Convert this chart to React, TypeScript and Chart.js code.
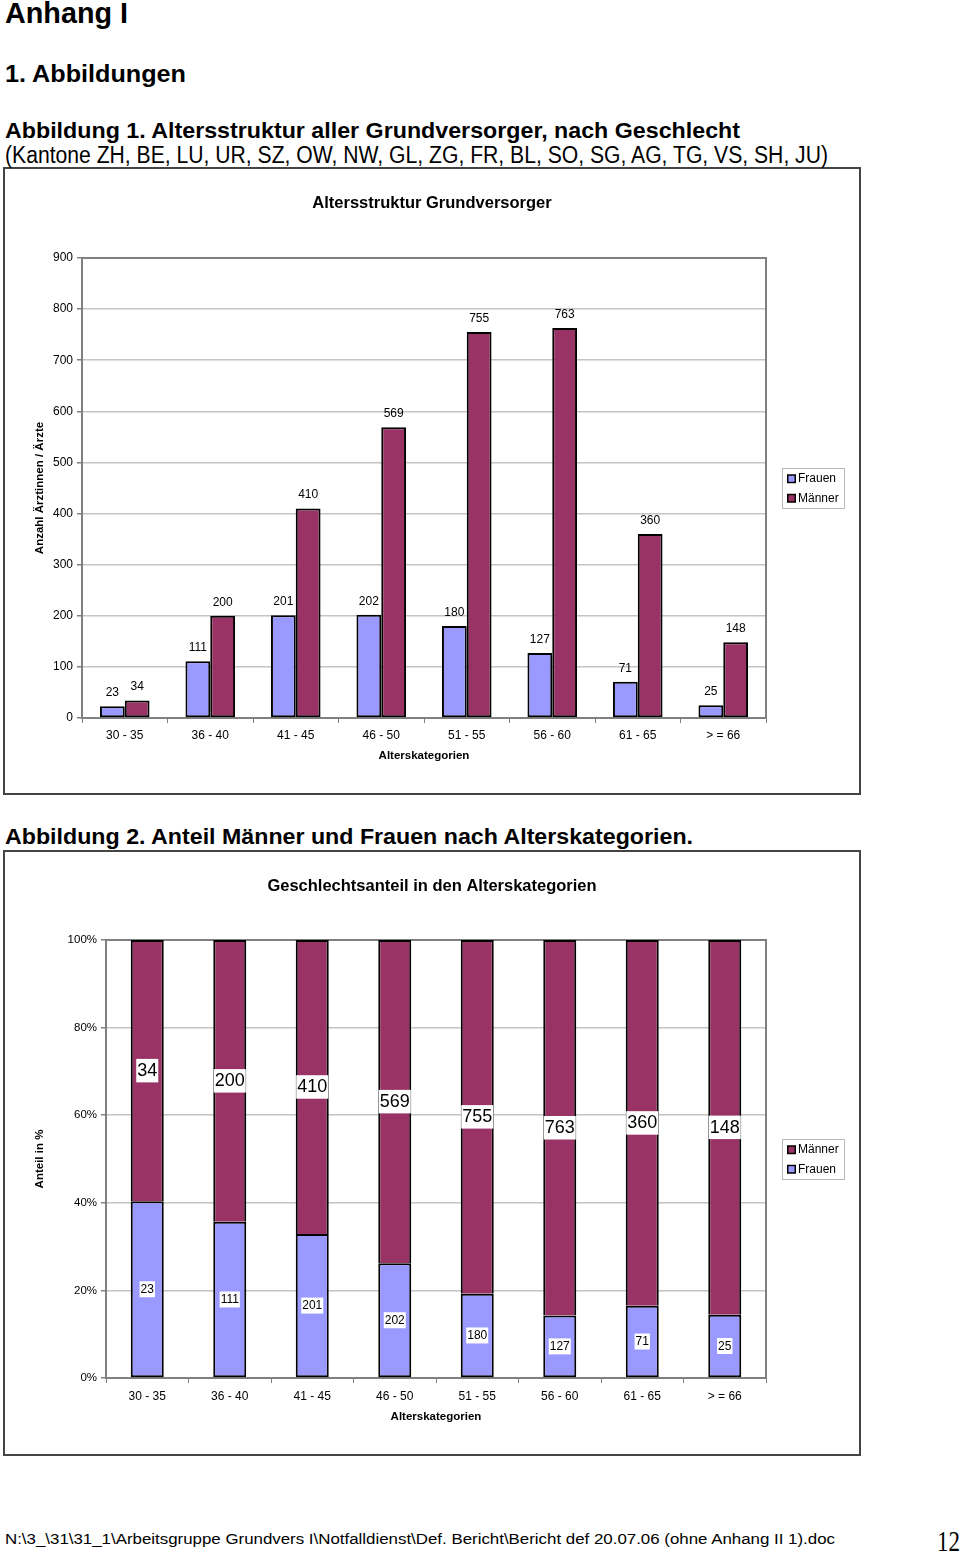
import React, { useEffect, useRef } from 'react';
import { Chart, registerables } from 'chart.js';

Chart.register(...registerables);

// ---------- data ----------
const categories = ['30 - 35', '36 - 40', '41 - 45', '46 - 50', '51 - 55', '56 - 60', '61 - 65', '> = 66'];
const frauen = [23, 111, 201, 202, 180, 127, 71, 25];
const maenner = [34, 200, 410, 569, 755, 763, 360, 148];
const countMax = 900;
const countStep = 100;
const shareMax = 100;
const shareStep = 20;

const frauenShare = frauen.map((f, i) => (f / (f + maenner[i])) * 100);
const maennerShare = maenner.map((m, i) => (m / (frauen[i] + m)) * 100);

// ---------- styles ----------
const FONT = "'Liberation Sans', Arial, Helvetica, sans-serif";
const COLOR_F = '#9999FF';
const COLOR_M = '#993366';
const AXIS = '#808080';
const GRID = '#c4c4c4';

type LegendItem = { label: string; color: string };

function drawLegend(ctx: CanvasRenderingContext2D, x: number, y: number, w: number, h: number, items: LegendItem[]) {
  ctx.save();
  ctx.fillStyle = '#fff';
  ctx.fillRect(x, y, w, h);
  ctx.strokeStyle = '#b8b8b8';
  ctx.lineWidth = 1;
  ctx.strokeRect(x + 0.5, y + 0.5, w - 1, h - 1);
  const rowH = h / items.length;
  ctx.font = `12px ${FONT}`;
  ctx.textAlign = 'left';
  ctx.textBaseline = 'middle';
  items.forEach((it, i) => {
    const cy = y + rowH * (i + 0.5) + (i === 0 ? 0.5 : -0.5);
    ctx.fillStyle = '#000';
    ctx.fillRect(x + 5, cy - 4.5, 9, 9);
    ctx.fillStyle = it.color;
    ctx.fillRect(x + 6.5, cy - 3, 6, 6);
    ctx.fillStyle = '#000';
    ctx.fillText(it.label, x + 16, cy);
  });
  ctx.restore();
}

function drawFrame(chart: any) {
  const { ctx, chartArea: a } = chart;
  ctx.save();
  ctx.strokeStyle = AXIS;
  ctx.lineWidth = 2;
  ctx.strokeRect(a.left, a.top, a.right - a.left, a.bottom - a.top);
  ctx.restore();
}

function drawTitles(chart: any, title: string, xTitle: string, xTitleY: number, yTitle: string, yTitleX: number) {
  const { ctx, chartArea: a } = chart;
  ctx.save();
  ctx.fillStyle = '#000';
  ctx.textAlign = 'center';
  ctx.textBaseline = 'middle';
  ctx.font = `bold 16.5px ${FONT}`;
  ctx.fillText(title, 428, 35);
  ctx.font = `bold 11.5px ${FONT}`;
  ctx.fillText(xTitle, (a.left + a.right) / 2, xTitleY);
  ctx.translate(yTitleX, (a.top + a.bottom) / 2);
  ctx.rotate(-Math.PI / 2);
  ctx.fillText(yTitle, 0, 0);
  ctx.restore();
}

const decorCounts = {
  id: 'decorCounts',
  beforeDatasetsDraw(chart: any) {
    drawFrame(chart);
  },
  afterDatasetsDraw(chart: any) {
    const { ctx } = chart;
    ctx.save();
    ctx.font = `12px ${FONT}`;
    ctx.fillStyle = '#000';
    ctx.textAlign = 'center';
    ctx.textBaseline = 'middle';
    chart.data.datasets.forEach((ds: any, i: number) => {
      const meta = chart.getDatasetMeta(i);
      meta.data.forEach((bar: any, j: number) => {
        ctx.fillText(String(ds.data[j]), bar.x, bar.y - 13.5);
      });
    });
    ctx.restore();
  },
  afterDraw(chart: any) {
    drawTitles(chart, 'Altersstruktur Grundversorger', 'Alterskategorien', 588, 'Anzahl Ärztinnen / Ärzte', 36);
    drawLegend(chart.ctx, 778, 300, 63, 41, [
      { label: 'Frauen', color: COLOR_F },
      { label: 'Männer', color: COLOR_M },
    ]);
  },
};

const decorShares = {
  id: 'decorShares',
  beforeDatasetsDraw(chart: any) {
    drawFrame(chart);
  },
  afterDatasetsDraw(chart: any) {
    const { ctx } = chart;
    const counts = [frauen, maenner];
    const sizes = [12, 18];
    ctx.save();
    ctx.textAlign = 'center';
    ctx.textBaseline = 'middle';
    chart.data.datasets.forEach((_ds: any, i: number) => {
      const meta = chart.getDatasetMeta(i);
      const size = sizes[i];
      ctx.font = `${size}px ${FONT}`;
      meta.data.forEach((bar: any, j: number) => {
        const txt = String(counts[i][j]);
        const cy = (bar.y + bar.base) / 2;
        const w = ctx.measureText(txt).width + 2;
        const h = size * 1.25 + 1;
        ctx.fillStyle = '#fff';
        ctx.fillRect(bar.x - w / 2, cy - h / 2, w, h);
        ctx.fillStyle = '#000';
        ctx.fillText(txt, bar.x, cy + 0.5);
      });
    });
    ctx.restore();
  },
  afterDraw(chart: any) {
    drawTitles(chart, 'Geschlechtsanteil in den Alterskategorien', 'Alterskategorien', 566, 'Anteil in %', 36);
    drawLegend(chart.ctx, 778, 288, 63, 41, [
      { label: 'Männer', color: COLOR_M },
      { label: 'Frauen', color: COLOR_F },
    ]);
  },
};

function xAxis(height: number, padding: number, stacked: boolean) {
  return {
    stacked,
    grid: { display: true, drawOnChartArea: false, drawTicks: true, tickLength: 5, tickColor: AXIS, offset: true },
    border: { display: true, color: AXIS, width: 2 },
    ticks: { font: { family: FONT, size: 12 }, color: '#000', padding, maxRotation: 0, autoSkip: false },
    afterFit: (s: any) => {
      s.height = height;
    },
  };
}

function countsConfig(): any {
  return {
    type: 'bar',
    data: {
      labels: categories,
      datasets: [
        { label: 'Frauen', data: frauen, backgroundColor: COLOR_F },
        { label: 'Männer', data: maenner, backgroundColor: COLOR_M },
      ],
    },
    options: {
      animation: false,
      responsive: false,
      layout: { padding: { left: 0, top: 90, right: 94, bottom: 0 } },
      datasets: {
        bar: { categoryPercentage: 0.58, barPercentage: 1, borderColor: '#000', borderWidth: 2, borderSkipped: false },
      },
      plugins: { legend: { display: false }, title: { display: false }, tooltip: { enabled: false } },
      scales: {
        x: xAxis(76, 5, false),
        y: {
          min: 0,
          max: countMax,
          ticks: { stepSize: countStep, font: { family: FONT, size: 12 }, color: '#000', padding: 4 },
          grid: { color: GRID, lineWidth: 1.5, tickLength: 5, tickColor: AXIS },
          border: { display: true, color: AXIS, width: 2 },
          afterFit: (s: any) => {
            s.width = 78;
          },
        },
      },
    },
    plugins: [decorCounts],
  };
}

function sharesConfig(): any {
  return {
    type: 'bar',
    data: {
      labels: categories,
      datasets: [
        { label: 'Frauen', data: frauenShare, backgroundColor: COLOR_F, borderSkipped: false },
        { label: 'Männer', data: maennerShare, backgroundColor: COLOR_M, borderSkipped: 'start' },
      ],
    },
    options: {
      animation: false,
      responsive: false,
      layout: { padding: { left: 0, top: 89, right: 94, bottom: 0 } },
      datasets: {
        bar: { categoryPercentage: 0.4, barPercentage: 1, borderColor: '#000', borderWidth: 2 },
      },
      plugins: { legend: { display: false }, title: { display: false }, tooltip: { enabled: false } },
      scales: {
        x: xAxis(77, 6, true),
        y: {
          stacked: true,
          min: 0,
          max: shareMax,
          ticks: {
            stepSize: shareStep,
            font: { family: FONT, size: 11.5 },
            color: '#000',
            padding: 4,
            callback: (v: any) => `${v}%`,
          },
          grid: { color: GRID, lineWidth: 1.5, tickLength: 5, tickColor: AXIS },
          border: { display: true, color: AXIS, width: 2 },
          afterFit: (s: any) => {
            s.width = 102;
          },
        },
      },
    },
    plugins: [decorShares],
  };
}

function ChartCanvas({ left, top, width, height, make }: { left: number; top: number; width: number; height: number; make: () => any }) {
  const ref = useRef<HTMLCanvasElement | null>(null);
  useEffect(() => {
    if (!ref.current) return;
    const chart = new Chart(ref.current, make());
    return () => chart.destroy();
  }, []);
  return (
    <canvas
      ref={ref}
      width={width}
      height={height}
      style={{ position: 'absolute', left, top, width, height }}
    />
  );
}

function Box({ left, top, width, height }: { left: number; top: number; width: number; height: number }) {
  return (
    <div
      style={{
        position: 'absolute',
        left,
        top,
        width,
        height,
        boxSizing: 'border-box',
        border: '2px solid #444',
        background: '#fff',
      }}
    />
  );
}

export default function App() {
  const T = (props: any) => (
    <text fontFamily={FONT} fill="#000" lengthAdjust="spacingAndGlyphs" {...props} />
  );
  return (
    <div
      style={{
        position: 'absolute',
        left: 0,
        top: 0,
        width: 960,
        height: 1551,
        overflow: 'hidden',
        background: '#fff',
      }}
    >
      <Box left={3} top={167} width={858} height={628} />
      <Box left={3} top={850} width={858} height={606} />
      <svg width={960} height={1551} style={{ position: 'absolute', left: 0, top: 0 }}>
        <T x={5} y={23} fontSize={30} fontWeight="bold" textLength={123}>Anhang I</T>
        <T x={5} y={82} fontSize={24} fontWeight="bold" textLength={181}>1. Abbildungen</T>
        <T x={5} y={138} fontSize={22.5} fontWeight="bold" textLength={735}>
          Abbildung 1. Altersstruktur aller Grundversorger, nach Geschlecht
        </T>
        <T x={5} y={162.5} fontSize={23} textLength={823}>
          (Kantone ZH, BE, LU, UR, SZ, OW, NW, GL, ZG, FR, BL, SO, SG, AG, TG, VS, SH, JU)
        </T>
        <T x={5} y={844} fontSize={22.5} fontWeight="bold" textLength={688}>
          Abbildung 2. Anteil Männer und Frauen nach Alterskategorien.
        </T>
        <T x={5} y={1543.5} fontSize={15.5} textLength={830}>
          N:\3_\31\31_1\Arbeitsgruppe Grundvers I\Notfalldienst\Def. Bericht\Bericht def 20.07.06 (ohne Anhang II 1).doc
        </T>
        <text x={937} y={1551} fontSize={30} fontFamily="'Liberation Serif', 'Times New Roman', serif" fill="#000" textLength={23} lengthAdjust="spacingAndGlyphs">
          12
        </text>
      </svg>
      <ChartCanvas left={4} top={168} width={856} height={626} make={countsConfig} />
      <ChartCanvas left={4} top={851} width={856} height={604} make={sharesConfig} />
    </div>
  );
}
